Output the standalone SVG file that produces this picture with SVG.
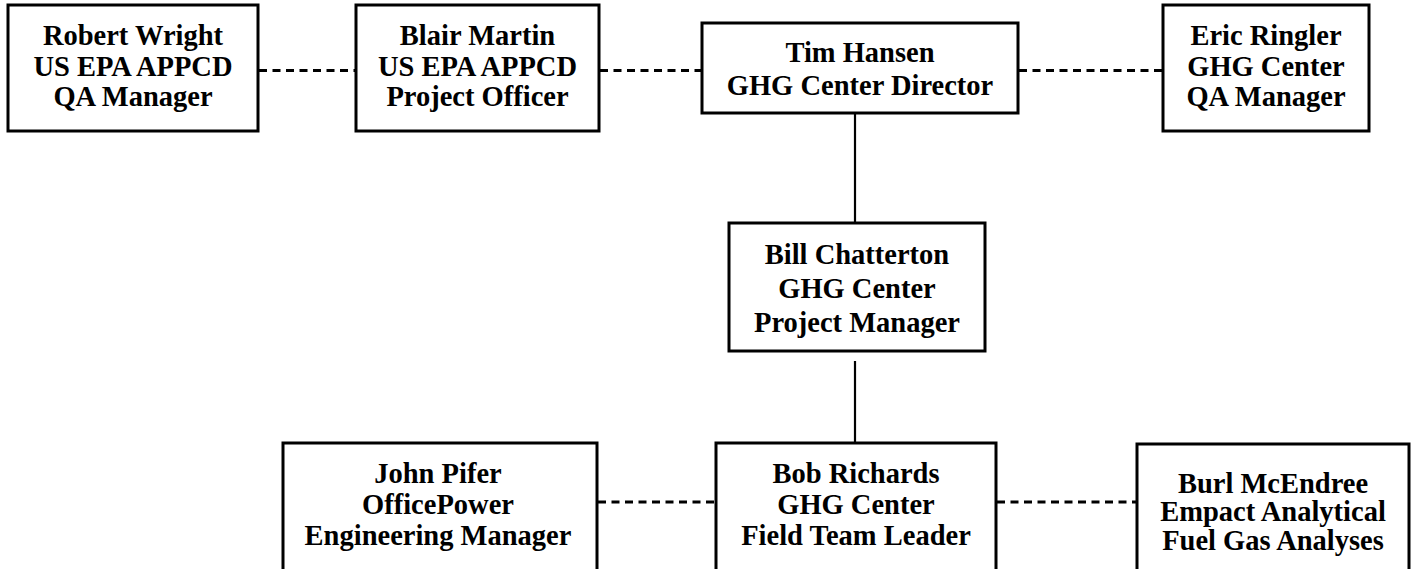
<svg xmlns="http://www.w3.org/2000/svg" width="1416" height="569" viewBox="0 0 1416 569">
<style>
.box{fill:#fff;stroke:#000;stroke-width:3}
.t{font-family:"Liberation Serif","Times New Roman",serif;font-weight:bold;font-size:28.5px;fill:#000;text-anchor:middle}
.dash{stroke:#000;stroke-width:3.2;stroke-dasharray:8 5.5;fill:none}
.solid{stroke:#000;stroke-width:2.2;fill:none}
</style>
<rect width="1416" height="569" fill="#fff"/>
<g id="connectors">
<line class="dash" x1="259" y1="70.5" x2="356" y2="70.5"/>
<line class="dash" x1="600" y1="70.5" x2="702" y2="70.5"/>
<line class="dash" x1="1019" y1="70.5" x2="1163" y2="70.5"/>
<line class="solid" x1="855" y1="113" x2="855" y2="223"/>
<line class="solid" x1="855" y1="361" x2="855" y2="443"/>
<line class="dash" x1="598" y1="502" x2="716" y2="502"/>
<line class="dash" x1="997" y1="502" x2="1137" y2="502"/>
</g>
<g id="robert">
<rect class="box" x="8" y="5" width="250" height="126"/>
<text class="t" x="133" y="45">Robert Wright</text>
<text class="t" x="133" y="76">US EPA APPCD</text>
<text class="t" x="133" y="106">QA Manager</text>
</g>
<g id="blair">
<rect class="box" x="356" y="5" width="243" height="126"/>
<text class="t" x="477.5" y="45">Blair Martin</text>
<text class="t" x="477.5" y="76">US EPA APPCD</text>
<text class="t" x="477.5" y="106">Project Officer</text>
</g>
<g id="tim">
<rect class="box" x="702" y="23" width="316" height="90"/>
<text class="t" x="860" y="62">Tim Hansen</text>
<text class="t" x="860" y="95">GHG Center Director</text>
</g>
<g id="eric">
<rect class="box" x="1163" y="5" width="206" height="126"/>
<text class="t" x="1266" y="45">Eric Ringler</text>
<text class="t" x="1266" y="76">GHG Center</text>
<text class="t" x="1266" y="106">QA Manager</text>
</g>
<g id="bill">
<rect class="box" x="729" y="223" width="256" height="128"/>
<text class="t" x="857" y="264">Bill Chatterton</text>
<text class="t" x="857" y="298">GHG Center</text>
<text class="t" x="857" y="332">Project Manager</text>
</g>
<g id="john">
<rect class="box" x="283" y="443" width="314" height="132"/>
<text class="t" x="438" y="483">John Pifer</text>
<text class="t" x="438" y="514">OfficePower</text>
<text class="t" x="438" y="545">Engineering Manager</text>
</g>
<g id="bob">
<rect class="box" x="716" y="443" width="280" height="132"/>
<text class="t" x="856" y="483">Bob Richards</text>
<text class="t" x="856" y="514">GHG Center</text>
<text class="t" x="856" y="545">Field Team Leader</text>
</g>
<g id="burl">
<rect class="box" x="1137" y="444" width="272" height="131"/>
<text class="t" x="1273" y="493">Burl McEndree</text>
<text class="t" x="1273" y="521">Empact Analytical</text>
<text class="t" x="1273" y="550">Fuel Gas Analyses</text>
</g>
</svg>
